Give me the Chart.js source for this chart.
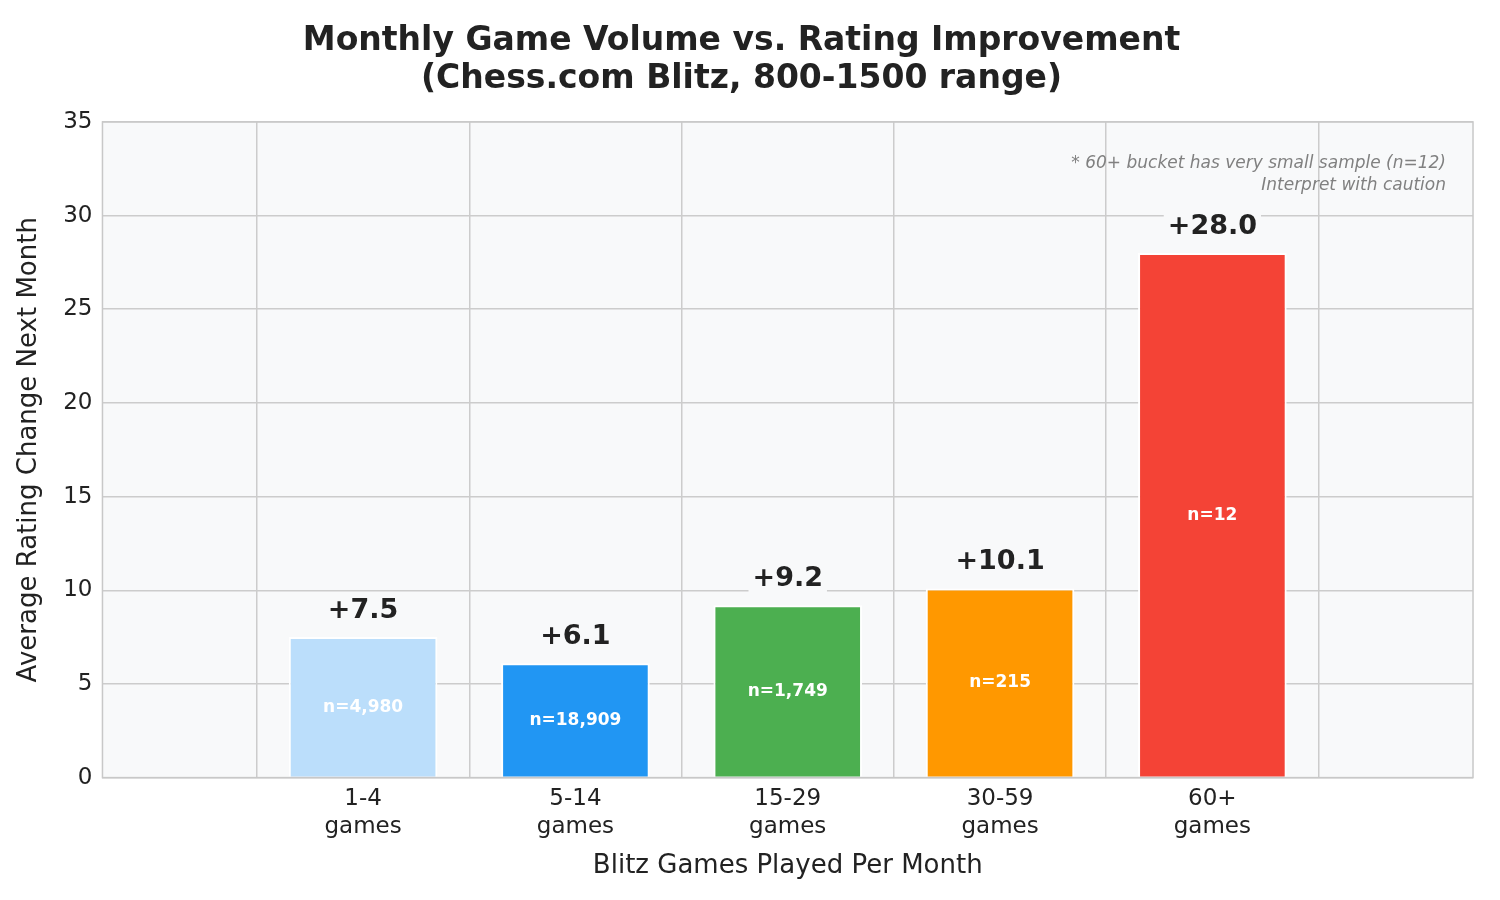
<!DOCTYPE html>
<html>
<head>
<meta charset="utf-8">
<script src="https://cdn.jsdelivr.net/npm/chart.js@4.4.0/dist/chart.umd.min.js"></script>
<style>
  body { margin: 0; background: #fff; }
  #wrap { width: 1500px; height: 900px; }
</style>
</head>
<body>
<div id="wrap"><canvas id="chart" width="1500" height="900"></canvas></div>
<script>
const categories = [["1-4", "games"], ["5-14", "games"], ["15-29", "games"], ["30-59", "games"], ["60+", "games"]];
const ratingChange = [7.5, 6.1, 9.2, 10.1, 28.0];
const sampleSizes = ["n=4,980", "n=18,909", "n=1,749", "n=215", "n=12"];
const barColors = ["#BBDEFB", "#2196F3", "#4CAF50", "#FF9800", "#F44336"];
const noteLines = ["* 60+ bucket has very small sample (n=12)", "Interpret with caution"];

const FONT = "'DejaVu Sans', sans-serif";
const plotBg = "#F8F9FA";

// background + frame of the plot area
const plotFrame = {
  id: "plotFrame",
  beforeDraw(chart) {
    const { ctx, chartArea: a } = chart;
    ctx.save();
    ctx.fillStyle = plotBg;
    ctx.fillRect(a.left, a.top, a.right - a.left, a.bottom - a.top);
    ctx.restore();
  },
  afterDraw(chart) {
    const { ctx, chartArea: a } = chart;
    ctx.save();
    ctx.strokeStyle = "#c8c8c8";
    ctx.lineWidth = 1.5;
    ctx.strokeRect(a.left, a.top, a.right - a.left, a.bottom - a.top);
    ctx.restore();
  },
};

// value labels, sample sizes and the caution note
const barLabels = {
  id: "barLabels",
  afterDatasetsDraw(chart) {
    const { ctx, chartArea: a } = chart;
    const y = chart.scales.y;
    const meta = chart.getDatasetMeta(0);
    ctx.save();
    ctx.textAlign = "center";
    meta.data.forEach((bar, i) => {
      const v = ratingChange[i];
      const txt = "+" + v.toFixed(1);
      ctx.font = "bold 27px " + FONT;
      const w = ctx.measureText(txt).width;
      const ty = y.getPixelForValue(v) - 26;
      ctx.fillStyle = plotBg;
      ctx.fillRect(bar.x - w / 2 - 4, ty - 16, w + 8, 32);
      ctx.fillStyle = "#222";
      ctx.textBaseline = "middle";
      ctx.fillText(txt, bar.x, ty);
      ctx.font = "bold 17px " + FONT;
      ctx.fillStyle = "#fff";
      ctx.fillText(sampleSizes[i], bar.x, y.getPixelForValue(v / 2));
    });
    ctx.font = "italic 17px " + FONT;
    ctx.fillStyle = "#808080";
    ctx.textAlign = "right";
    ctx.fillText(noteLines[0], a.right - 27, a.top + 42);
    ctx.fillText(noteLines[1], a.right - 27, a.top + 64);
    ctx.restore();
  },
};

new Chart(document.getElementById("chart"), {
  type: "bar",
  data: {
    datasets: [{
      data: ratingChange.map((v, i) => ({ x: i, y: v })),
      backgroundColor: barColors,
      borderColor: "#fff",
      borderWidth: 2,
      categoryPercentage: 1,
      barPercentage: 0.7,
    }],
  },
  options: {
    responsive: false,
    devicePixelRatio: 1,
    animation: false,
    layout: { padding: { left: 10, right: 27, top: 0, bottom: 14 } },
    plugins: {
      legend: { display: false },
      tooltip: { enabled: false },
      title: {
        display: true,
        text: ["Monthly Game Volume vs. Rating Improvement", "(Chess.com Blitz, 800-1500 range)"],
        color: "#222",
        font: { family: FONT, size: 33, weight: "bold", lineHeight: 1.15 },
        padding: { top: 22, bottom: 24 },
      },
    },
    scales: {
      x: {
        type: "linear",
        min: -0.582,
        max: 4.582,
        afterBuildTicks(axis) {
          axis.ticks = categories.map((c, i) => ({ value: i }));
        },
        grid: { color: "#cccccc", lineWidth: 1.5, drawTicks: false },
        border: { display: false },
        ticks: {
          color: "#222",
          font: { family: FONT, size: 23 },
          padding: 8,
          callback: (v) => categories[v],
        },
        title: { display: true, text: "Blitz Games Played Per Month", color: "#222", font: { family: FONT, size: 26 }, padding: { top: 2 } },
      },
      y: {
        min: 0,
        max: 35,
        grid: { color: "#cccccc", lineWidth: 1.5, drawTicks: false },
        border: { display: false },
        ticks: { stepSize: 5, color: "#222", font: { family: FONT, size: 23 }, padding: 10 },
        title: { display: true, text: "Average Rating Change Next Month", color: "#222", font: { family: FONT, size: 26 }, padding: { bottom: 8 } },
      },
    },
  },
  plugins: [plotFrame, barLabels],
});
</script>
</body>
</html>
